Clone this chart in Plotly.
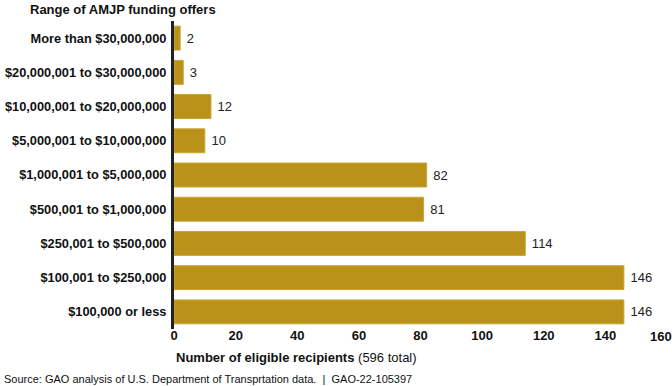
import plotly.graph_objects as go

categories = ["$100,000 or less", "$100,001 to $250,000", "$250,001 to $500,000",
              "$500,001 to $1,000,000", "$1,000,001 to $5,000,000", "$5,000,001 to $10,000,000",
              "$10,000,001 to $20,000,000", "$20,000,001 to $30,000,000", "More than $30,000,000"]
values = [146, 146, 114, 81, 82, 10, 12, 3, 2]
x_ticks = [0, 20, 40, 60, 80, 100, 120, 140, 160]

FONT = "Liberation Sans, Arial, sans-serif"
L, R = 174, 5
PW = 672 - L - R

fig = go.Figure(go.Bar(
    x=values, y=categories, orientation="h",
    marker=dict(color="#BA9219", line=dict(color="#C9A43A", width=1)),
    text=[" " + str(v) for v in values], textposition="outside",
    textfont=dict(family=FONT, size=13, color="#222"),
    cliponaxis=False,
))

tick_text = [str(t) for t in x_ticks[:-1]] + [""]

fig.update_layout(
    width=672, height=386,
    margin=dict(l=L, r=R, t=21, b=57, autoexpand=False),
    paper_bgcolor="white", plot_bgcolor="white",
    bargap=0.3, showlegend=False,
    font=dict(family=FONT, color="#111"),
    xaxis=dict(range=[0, 160], tickvals=x_ticks, ticktext=tick_text, showgrid=False, zeroline=False,
               automargin=False, showline=False, ticks="", ticklabelstandoff=-3,
               tickfont=dict(family=FONT, size=13, color="#111", weight="bold")),
    yaxis=dict(showgrid=False, zeroline=False, showline=True, linewidth=3, linecolor="#222",
               ticks="", ticklabelstandoff=2, automargin=False,
               tickfont=dict(family=FONT, size=12.8, color="#111", weight="bold")),
    annotations=[
        dict(text="<b>%d</b>" % x_ticks[-1], xref="paper", yref="paper", x=1 + R / PW, y=0,
             yshift=-7, xshift=2, xanchor="right", yanchor="middle", showarrow=False,
             font=dict(family=FONT, size=13, color="#111")),
        dict(text="<b>Range of AMJP funding offers</b>", xref="paper", yref="paper",
             x=-L / PW, y=1, yshift=12, xshift=28, xanchor="left", yanchor="middle",
             showarrow=False, font=dict(family=FONT, size=13, color="#111")),
        dict(text="<b>Number of eligible recipients</b> (596 total)", xref="paper", yref="paper",
             x=0, y=0, yshift=-28, xanchor="left", yanchor="middle", showarrow=False,
             font=dict(family=FONT, size=13, color="#111")),
        dict(text="Source: GAO analysis of U.S. Department of Transprtation data.  |  GAO-22-105397",
             xref="paper", yref="paper", x=-L / PW, y=0, yshift=-50, xshift=2,
             xanchor="left", yanchor="middle", showarrow=False,
             font=dict(family=FONT, size=11, color="#111")),
    ],
)

fig.write_html("out.html", config={"displayModeBar": False},
               post_script="document.body.style.margin='0';document.body.style.overflow='hidden';")
